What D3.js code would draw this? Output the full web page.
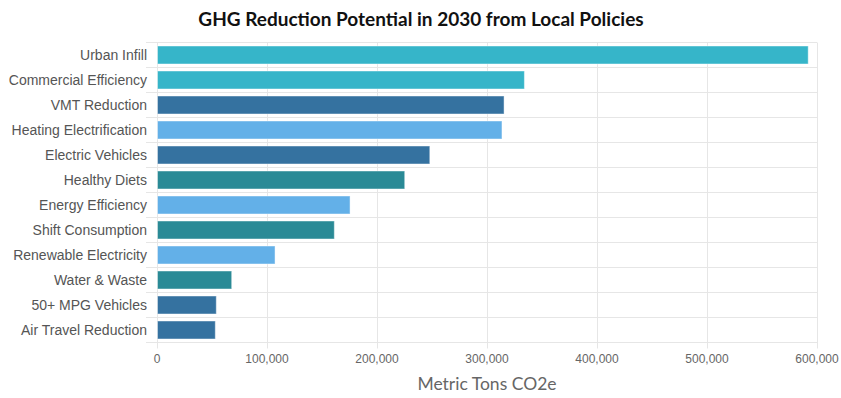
<!DOCTYPE html>
<html>
<head>
<meta charset="utf-8">
<script src="https://cdn.jsdelivr.net/npm/d3@7"></script>
<style>
  body { margin: 0; background: #fff; }
  svg { display: block; }
</style>
</head>
<body>
<div id="chart"></div>
<script>
// data
var categories = ["Urban Infill", "Commercial Efficiency", "VMT Reduction", "Heating Electrification",
  "Electric Vehicles", "Healthy Diets", "Energy Efficiency", "Shift Consumption",
  "Renewable Electricity", "Water & Waste", "50+ MPG Vehicles", "Air Travel Reduction"];
var values = [592000, 334000, 315500, 313600, 248000, 225200, 175500, 161200, 107300, 67900, 53900, 53000];
var groups = ["cyan", "cyan", "navy", "sky", "navy", "teal", "sky", "teal", "sky", "teal", "navy", "navy"];
var xTicks = [0, 100000, 200000, 300000, 400000, 500000, 600000];

var colors = { cyan: "#36b5c9", navy: "#3572a0", sky: "#63b0e8", teal: "#2a8a96" };

var margin = { top: 42.5, right: 24, bottom: 55.5, left: 157 },
  W = 841, H = 398,
  width = W - margin.left - margin.right,
  height = H - margin.top - margin.bottom;

var svg = d3.select("#chart").append("svg")
  .attr("width", W)
  .attr("height", H);

var g = svg.append("g")
  .attr("transform", "translate(" + margin.left + "," + margin.top + ")");

var x = d3.scaleLinear().domain([0, 600000]).range([0, width]);
var y = d3.scaleBand().domain(categories).range([0, height]).paddingInner(0).paddingOuter(0);

// vertical grid
g.selectAll(".vgrid")
  .data(xTicks)
  .enter().append("line")
  .attr("class", "vgrid")
  .attr("x1", function(d) { return Math.round(x(d)) + 0.5; })
  .attr("x2", function(d) { return Math.round(x(d)) + 0.5; })
  .attr("y1", 0)
  .attr("y2", height + 6)
  .attr("stroke", "#e6e6e6");

// horizontal category boundaries (tick extends left)
var bounds = d3.range(categories.length + 1);
g.selectAll(".hgrid")
  .data(bounds)
  .enter().append("line")
  .attr("class", "hgrid")
  .attr("x1", -11)
  .attr("x2", width)
  .attr("y1", function(i) { return i * y.step(); })
  .attr("y2", function(i) { return i * y.step(); })
  .attr("stroke", "#e6e6e6");

// bars
var barH = 18;
g.selectAll(".bar")
  .data(categories)
  .enter().append("rect")
  .attr("class", "bar")
  .attr("x", 0.5)
  .attr("y", function(d) { return y(d) + (y.bandwidth() - barH) / 2; })
  .attr("width", function(d, i) { return x(values[i]) - 0.5; })
  .attr("height", barH)
  .attr("fill", function(d, i) { return colors[groups[i]]; })
  .attr("stroke", "#ffffff")
  .attr("stroke-opacity", 0.45)
  .attr("stroke-width", 1);

// category labels
g.selectAll(".cat")
  .data(categories)
  .enter().append("text")
  .attr("class", "cat")
  .attr("x", -10)
  .attr("y", function(d) { return y(d) + y.bandwidth() / 2; })
  .attr("dy", "0.35em")
  .attr("text-anchor", "end")
  .attr("font-family", "Liberation Sans, Arial, sans-serif")
  .attr("font-size", "14px")
  .attr("fill", "#555")
  .text(function(d) { return d; });

// x axis labels
var fmt = d3.format(",");
g.selectAll(".xlab")
  .data(xTicks)
  .enter().append("text")
  .attr("class", "xlab")
  .attr("x", function(d) { return x(d); })
  .attr("y", height + 20)
  .attr("text-anchor", "middle")
  .attr("font-family", "Liberation Sans, Arial, sans-serif")
  .attr("font-size", "12px")
  .attr("fill", "#666")
  .text(function(d) { return fmt(d); });

// axis title
svg.append("text")
  .attr("x", margin.left + width / 2)
  .attr("y", 390)
  .attr("text-anchor", "middle")
  .attr("font-family", "Lato, sans-serif")
  .attr("font-size", "17.5px")
  .attr("fill", "#666")
  .text("Metric Tons CO2e");

// chart title
svg.append("text")
  .attr("x", 421)
  .attr("y", 26)
  .attr("text-anchor", "middle")
  .attr("font-family", "Lato, sans-serif")
  .attr("font-weight", "bold")
  .attr("font-size", "19px")
  .attr("fill", "#111")
  .text("GHG Reduction Potential in 2030 from Local Policies");
</script>
</body>
</html>
